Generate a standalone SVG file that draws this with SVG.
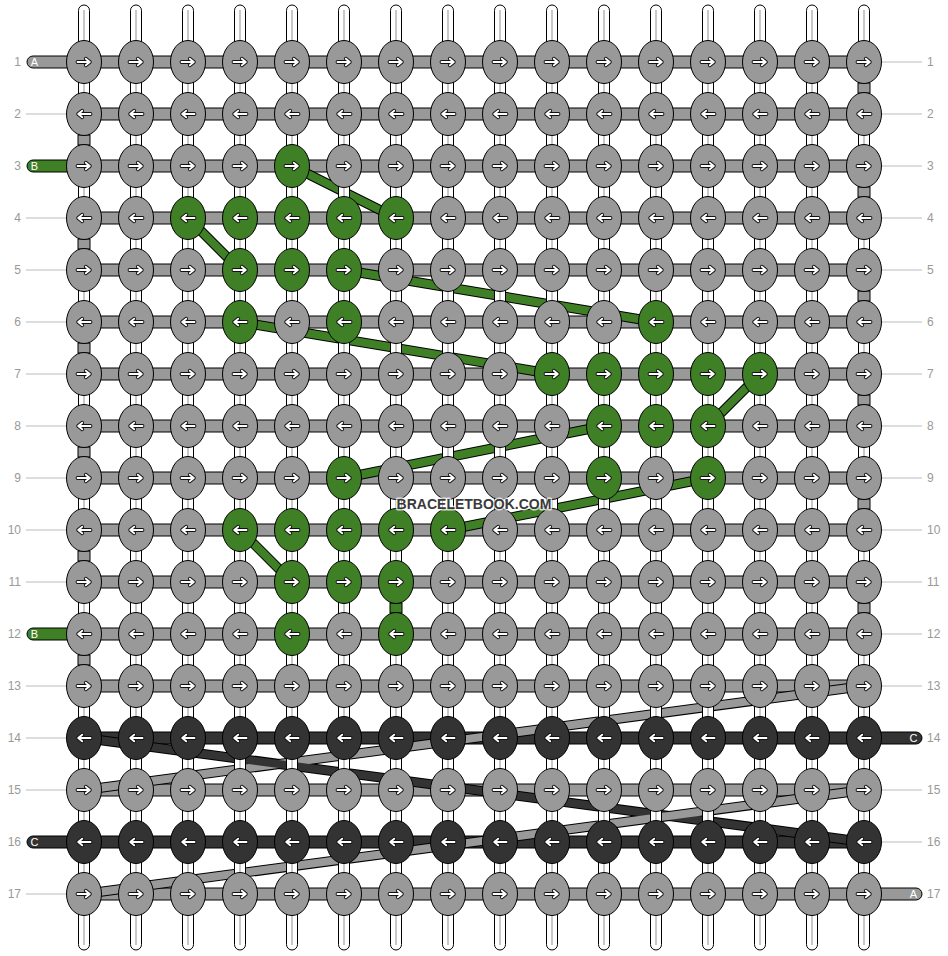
<svg xmlns="http://www.w3.org/2000/svg" xmlns:xlink="http://www.w3.org/1999/xlink" width="948" height="956" viewBox="0 0 948 956">
<style>
.nd{stroke:#000;stroke-width:1}
.g{fill:#999}
.e{fill:#3f7f25}
.d{fill:#333}
.ao{fill:none;stroke:#111;stroke-width:3.8;stroke-linecap:round;stroke-linejoin:round}
.ai{fill:none;stroke:#fff;stroke-width:1.9;stroke-linecap:round;stroke-linejoin:round}
.hs{stroke:#000;stroke-width:1}
.lbl{font-family:"Liberation Sans",Arial,sans-serif;font-size:12px;fill:#999}
.sl{font-family:"Liberation Sans",Arial,sans-serif;font-size:11px;fill:#fff;text-anchor:middle}
.ln{stroke:#bbb;stroke-width:1}
.dg0{stroke:#000;stroke-width:10;fill:none}
.dg1{stroke-width:8;fill:none}
</style>
<defs>
<path id="arp" d="M-6.5,0H5.8M1.8,-3.3L5.8,0L1.8,3.3"/>
<g id="ar"><use href="#arp" class="ao"/><use href="#arp" class="ai"/></g>
<g id="al"><use href="#ar" transform="scale(-1,1)"/></g>
<g id="gR"><ellipse rx="17.5" ry="21.5" class="nd g"/><use href="#ar"/></g>
<g id="gL"><ellipse rx="17.5" ry="21.5" class="nd g"/><use href="#al"/></g>
<g id="eR"><ellipse rx="17.5" ry="21.5" class="nd e"/><use href="#ar"/></g>
<g id="eL"><ellipse rx="17.5" ry="21.5" class="nd e"/><use href="#al"/></g>
<g id="dL"><ellipse rx="17.5" ry="21.5" class="nd d"/><use href="#al"/></g>
<g id="vs"><rect x="-5.5" y="5" width="11" height="945" rx="5.5" fill="#fff" stroke="#000" stroke-width="1"/><line x1="0" y1="10" x2="0" y2="945" stroke="#c8c8c8" stroke-width="2"/></g>
</defs>
<rect width="948" height="956" fill="#fff"/>

<g id="labels">
<g class="lbl" text-anchor="end">
<text x="21" y="66">1</text><text x="21" y="118">2</text><text x="21" y="170">3</text><text x="21" y="222">4</text><text x="21" y="274">5</text><text x="21" y="326">6</text><text x="21" y="378">7</text><text x="21" y="430">8</text><text x="21" y="482">9</text><text x="21" y="534">10</text><text x="21" y="586">11</text><text x="21" y="638">12</text><text x="21" y="690">13</text><text x="21" y="742">14</text><text x="21" y="794">15</text><text x="21" y="846">16</text><text x="21" y="898">17</text>
</g>
<g class="lbl">
<text x="927" y="66">1</text><text x="927" y="118">2</text><text x="927" y="170">3</text><text x="927" y="222">4</text><text x="927" y="274">5</text><text x="927" y="326">6</text><text x="927" y="378">7</text><text x="927" y="430">8</text><text x="927" y="482">9</text><text x="927" y="534">10</text><text x="927" y="586">11</text><text x="927" y="638">12</text><text x="927" y="690">13</text><text x="927" y="742">14</text><text x="927" y="794">15</text><text x="927" y="846">16</text><text x="927" y="898">17</text>
</g>
<g class="ln">
<line x1="26" y1="114" x2="66" y2="114"/><line x1="26" y1="218" x2="66" y2="218"/><line x1="26" y1="270" x2="66" y2="270"/><line x1="26" y1="322" x2="66" y2="322"/><line x1="26" y1="374" x2="66" y2="374"/><line x1="26" y1="426" x2="66" y2="426"/><line x1="26" y1="478" x2="66" y2="478"/><line x1="26" y1="530" x2="66" y2="530"/><line x1="26" y1="582" x2="66" y2="582"/><line x1="26" y1="686" x2="66" y2="686"/><line x1="26" y1="738" x2="66" y2="738"/><line x1="26" y1="790" x2="66" y2="790"/><line x1="26" y1="894" x2="66" y2="894"/>
<line x1="882" y1="62" x2="922" y2="62"/><line x1="882" y1="114" x2="922" y2="114"/><line x1="882" y1="166" x2="922" y2="166"/><line x1="882" y1="218" x2="922" y2="218"/><line x1="882" y1="270" x2="922" y2="270"/><line x1="882" y1="322" x2="922" y2="322"/><line x1="882" y1="374" x2="922" y2="374"/><line x1="882" y1="426" x2="922" y2="426"/><line x1="882" y1="478" x2="922" y2="478"/><line x1="882" y1="530" x2="922" y2="530"/><line x1="882" y1="582" x2="922" y2="582"/><line x1="882" y1="634" x2="922" y2="634"/><line x1="882" y1="686" x2="922" y2="686"/><line x1="882" y1="790" x2="922" y2="790"/><line x1="882" y1="842" x2="922" y2="842"/>
</g>
</g>

<g id="connectors">
<g id="rows" class="hs">
<rect x="27" y="56" width="60" height="12" rx="6" class="g"/>
<rect x="27" y="160" width="60" height="12" rx="6" class="e"/>
<rect x="27" y="628" width="60" height="12" rx="6" class="e"/>
<rect x="27" y="836" width="60" height="12" rx="6" class="d"/>
<rect x="860" y="732" width="62" height="12" rx="6" class="d"/>
<rect x="860" y="888" width="62" height="12" rx="6" class="g"/>
<rect x="84" y="56" width="780" height="12" class="g"/>
<rect x="84" y="108" width="780" height="12" class="g"/>
<rect x="84" y="160" width="780" height="12" class="g"/>
<rect x="84" y="212" width="780" height="12" class="g"/>
<rect x="84" y="264" width="780" height="12" class="g"/>
<rect x="84" y="316" width="780" height="12" class="g"/>
<rect x="84" y="368" width="780" height="12" class="g"/>
<rect x="84" y="420" width="780" height="12" class="g"/>
<rect x="84" y="472" width="780" height="12" class="g"/>
<rect x="84" y="524" width="780" height="12" class="g"/>
<rect x="84" y="576" width="780" height="12" class="g"/>
<rect x="84" y="628" width="780" height="12" class="g"/>
<rect x="84" y="680" width="780" height="12" class="g"/>
<rect x="84" y="732" width="780" height="12" class="d"/>
<rect x="84" y="784" width="780" height="12" class="g"/>
<rect x="84" y="836" width="780" height="12" class="d"/>
<rect x="84" y="888" width="780" height="12" class="g"/>
</g>
<g id="strandlabels">
<text x="34.5" y="66" class="sl">A</text>
<text x="34.5" y="170" class="sl">B</text>
<text x="34.5" y="638" class="sl">B</text>
<text x="34.5" y="846" class="sl">C</text>
<text x="913.5" y="742" class="sl">C</text>
<text x="913.5" y="898" class="sl">A</text>
</g>
<g id="diagonals">
<g class="dg0">
<line x1="292" y1="166" x2="396" y2="218"/>
<line x1="188" y1="218" x2="240" y2="270"/>
<line x1="344" y1="270" x2="656" y2="322"/>
<line x1="240" y1="322" x2="552" y2="374"/>
<line x1="760" y1="374" x2="708" y2="426"/>
<line x1="604" y1="426" x2="344" y2="478"/>
<line x1="708" y1="478" x2="448" y2="530"/>
<line x1="240" y1="530" x2="292" y2="582"/>
<line x1="864" y1="686" x2="84" y2="790"/>
<line x1="84" y1="738" x2="864" y2="842"/>
<line x1="864" y1="790" x2="84" y2="894"/>
</g>
<g class="dg1" stroke="#3f7f25">
<line x1="292" y1="166" x2="396" y2="218"/>
<line x1="188" y1="218" x2="240" y2="270"/>
<line x1="344" y1="270" x2="656" y2="322"/>
<line x1="240" y1="322" x2="552" y2="374"/>
<line x1="760" y1="374" x2="708" y2="426"/>
<line x1="604" y1="426" x2="344" y2="478"/>
<line x1="708" y1="478" x2="448" y2="530"/>
<line x1="240" y1="530" x2="292" y2="582"/>
</g>
<line class="dg1" stroke="#999" x1="864" y1="686" x2="84" y2="790"/>
<line class="dg1" stroke="#333" x1="84" y1="738" x2="864" y2="842"/>
<line class="dg1" stroke="#999" x1="864" y1="790" x2="84" y2="894"/>
</g>
<g id="verticals">
<use href="#vs" x="84"/><use href="#vs" x="136"/><use href="#vs" x="188"/><use href="#vs" x="240"/><use href="#vs" x="292"/><use href="#vs" x="344"/><use href="#vs" x="396"/><use href="#vs" x="448"/><use href="#vs" x="500"/><use href="#vs" x="552"/><use href="#vs" x="604"/><use href="#vs" x="656"/><use href="#vs" x="708"/><use href="#vs" x="760"/><use href="#vs" x="812"/><use href="#vs" x="864"/>
</g>
<g id="turns" class="hs">
<rect x="858" y="83" width="12" height="10" class="g"/>
<rect x="858" y="187" width="12" height="10" class="g"/>
<rect x="858" y="291" width="12" height="10" class="g"/>
<rect x="858" y="395" width="12" height="10" class="g"/>
<rect x="858" y="499" width="12" height="10" class="g"/>
<rect x="858" y="603" width="12" height="10" class="g"/>
<rect x="78" y="135" width="12" height="10" class="g"/>
<rect x="78" y="239" width="12" height="10" class="g"/>
<rect x="78" y="343" width="12" height="10" class="g"/>
<rect x="78" y="447" width="12" height="10" class="g"/>
<rect x="78" y="551" width="12" height="10" class="g"/>
<rect x="78" y="655" width="12" height="10" class="g"/>
<rect x="390" y="603" width="12" height="10" class="e"/>
</g>
</g>

<g id="nodes">
<g id="k1-1"><use href="#gR" x="84" y="62"/></g><g id="k1-2"><use href="#gR" x="136" y="62"/></g><g id="k1-3"><use href="#gR" x="188" y="62"/></g><g id="k1-4"><use href="#gR" x="240" y="62"/></g><g id="k1-5"><use href="#gR" x="292" y="62"/></g><g id="k1-6"><use href="#gR" x="344" y="62"/></g><g id="k1-7"><use href="#gR" x="396" y="62"/></g><g id="k1-8"><use href="#gR" x="448" y="62"/></g><g id="k1-9"><use href="#gR" x="500" y="62"/></g><g id="k1-10"><use href="#gR" x="552" y="62"/></g><g id="k1-11"><use href="#gR" x="604" y="62"/></g><g id="k1-12"><use href="#gR" x="656" y="62"/></g><g id="k1-13"><use href="#gR" x="708" y="62"/></g><g id="k1-14"><use href="#gR" x="760" y="62"/></g><g id="k1-15"><use href="#gR" x="812" y="62"/></g><g id="k1-16"><use href="#gR" x="864" y="62"/></g>
<g id="k2-1"><use href="#gL" x="84" y="114"/></g><g id="k2-2"><use href="#gL" x="136" y="114"/></g><g id="k2-3"><use href="#gL" x="188" y="114"/></g><g id="k2-4"><use href="#gL" x="240" y="114"/></g><g id="k2-5"><use href="#gL" x="292" y="114"/></g><g id="k2-6"><use href="#gL" x="344" y="114"/></g><g id="k2-7"><use href="#gL" x="396" y="114"/></g><g id="k2-8"><use href="#gL" x="448" y="114"/></g><g id="k2-9"><use href="#gL" x="500" y="114"/></g><g id="k2-10"><use href="#gL" x="552" y="114"/></g><g id="k2-11"><use href="#gL" x="604" y="114"/></g><g id="k2-12"><use href="#gL" x="656" y="114"/></g><g id="k2-13"><use href="#gL" x="708" y="114"/></g><g id="k2-14"><use href="#gL" x="760" y="114"/></g><g id="k2-15"><use href="#gL" x="812" y="114"/></g><g id="k2-16"><use href="#gL" x="864" y="114"/></g>
<g id="k3-1"><use href="#gR" x="84" y="166"/></g><g id="k3-2"><use href="#gR" x="136" y="166"/></g><g id="k3-3"><use href="#gR" x="188" y="166"/></g><g id="k3-4"><use href="#gR" x="240" y="166"/></g><g id="k3-5"><use href="#eR" x="292" y="166"/></g><g id="k3-6"><use href="#gR" x="344" y="166"/></g><g id="k3-7"><use href="#gR" x="396" y="166"/></g><g id="k3-8"><use href="#gR" x="448" y="166"/></g><g id="k3-9"><use href="#gR" x="500" y="166"/></g><g id="k3-10"><use href="#gR" x="552" y="166"/></g><g id="k3-11"><use href="#gR" x="604" y="166"/></g><g id="k3-12"><use href="#gR" x="656" y="166"/></g><g id="k3-13"><use href="#gR" x="708" y="166"/></g><g id="k3-14"><use href="#gR" x="760" y="166"/></g><g id="k3-15"><use href="#gR" x="812" y="166"/></g><g id="k3-16"><use href="#gR" x="864" y="166"/></g>
<g id="k4-1"><use href="#gL" x="84" y="218"/></g><g id="k4-2"><use href="#gL" x="136" y="218"/></g><g id="k4-3"><use href="#eL" x="188" y="218"/></g><g id="k4-4"><use href="#eL" x="240" y="218"/></g><g id="k4-5"><use href="#eL" x="292" y="218"/></g><g id="k4-6"><use href="#eL" x="344" y="218"/></g><g id="k4-7"><use href="#eL" x="396" y="218"/></g><g id="k4-8"><use href="#gL" x="448" y="218"/></g><g id="k4-9"><use href="#gL" x="500" y="218"/></g><g id="k4-10"><use href="#gL" x="552" y="218"/></g><g id="k4-11"><use href="#gL" x="604" y="218"/></g><g id="k4-12"><use href="#gL" x="656" y="218"/></g><g id="k4-13"><use href="#gL" x="708" y="218"/></g><g id="k4-14"><use href="#gL" x="760" y="218"/></g><g id="k4-15"><use href="#gL" x="812" y="218"/></g><g id="k4-16"><use href="#gL" x="864" y="218"/></g>
<g id="k5-1"><use href="#gR" x="84" y="270"/></g><g id="k5-2"><use href="#gR" x="136" y="270"/></g><g id="k5-3"><use href="#gR" x="188" y="270"/></g><g id="k5-4"><use href="#eR" x="240" y="270"/></g><g id="k5-5"><use href="#eR" x="292" y="270"/></g><g id="k5-6"><use href="#eR" x="344" y="270"/></g><g id="k5-7"><use href="#gR" x="396" y="270"/></g><g id="k5-8"><use href="#gR" x="448" y="270"/></g><g id="k5-9"><use href="#gR" x="500" y="270"/></g><g id="k5-10"><use href="#gR" x="552" y="270"/></g><g id="k5-11"><use href="#gR" x="604" y="270"/></g><g id="k5-12"><use href="#gR" x="656" y="270"/></g><g id="k5-13"><use href="#gR" x="708" y="270"/></g><g id="k5-14"><use href="#gR" x="760" y="270"/></g><g id="k5-15"><use href="#gR" x="812" y="270"/></g><g id="k5-16"><use href="#gR" x="864" y="270"/></g>
<g id="k6-1"><use href="#gL" x="84" y="322"/></g><g id="k6-2"><use href="#gL" x="136" y="322"/></g><g id="k6-3"><use href="#gL" x="188" y="322"/></g><g id="k6-4"><use href="#eL" x="240" y="322"/></g><g id="k6-5"><use href="#gL" x="292" y="322"/></g><g id="k6-6"><use href="#eL" x="344" y="322"/></g><g id="k6-7"><use href="#gL" x="396" y="322"/></g><g id="k6-8"><use href="#gL" x="448" y="322"/></g><g id="k6-9"><use href="#gL" x="500" y="322"/></g><g id="k6-10"><use href="#gL" x="552" y="322"/></g><g id="k6-11"><use href="#gL" x="604" y="322"/></g><g id="k6-12"><use href="#eL" x="656" y="322"/></g><g id="k6-13"><use href="#gL" x="708" y="322"/></g><g id="k6-14"><use href="#gL" x="760" y="322"/></g><g id="k6-15"><use href="#gL" x="812" y="322"/></g><g id="k6-16"><use href="#gL" x="864" y="322"/></g>
<g id="k7-1"><use href="#gR" x="84" y="374"/></g><g id="k7-2"><use href="#gR" x="136" y="374"/></g><g id="k7-3"><use href="#gR" x="188" y="374"/></g><g id="k7-4"><use href="#gR" x="240" y="374"/></g><g id="k7-5"><use href="#gR" x="292" y="374"/></g><g id="k7-6"><use href="#gR" x="344" y="374"/></g><g id="k7-7"><use href="#gR" x="396" y="374"/></g><g id="k7-8"><use href="#gR" x="448" y="374"/></g><g id="k7-9"><use href="#gR" x="500" y="374"/></g><g id="k7-10"><use href="#eR" x="552" y="374"/></g><g id="k7-11"><use href="#eR" x="604" y="374"/></g><g id="k7-12"><use href="#eR" x="656" y="374"/></g><g id="k7-13"><use href="#eR" x="708" y="374"/></g><g id="k7-14"><use href="#eR" x="760" y="374"/></g><g id="k7-15"><use href="#gR" x="812" y="374"/></g><g id="k7-16"><use href="#gR" x="864" y="374"/></g>
<g id="k8-1"><use href="#gL" x="84" y="426"/></g><g id="k8-2"><use href="#gL" x="136" y="426"/></g><g id="k8-3"><use href="#gL" x="188" y="426"/></g><g id="k8-4"><use href="#gL" x="240" y="426"/></g><g id="k8-5"><use href="#gL" x="292" y="426"/></g><g id="k8-6"><use href="#gL" x="344" y="426"/></g><g id="k8-7"><use href="#gL" x="396" y="426"/></g><g id="k8-8"><use href="#gL" x="448" y="426"/></g><g id="k8-9"><use href="#gL" x="500" y="426"/></g><g id="k8-10"><use href="#gL" x="552" y="426"/></g><g id="k8-11"><use href="#eL" x="604" y="426"/></g><g id="k8-12"><use href="#eL" x="656" y="426"/></g><g id="k8-13"><use href="#eL" x="708" y="426"/></g><g id="k8-14"><use href="#gL" x="760" y="426"/></g><g id="k8-15"><use href="#gL" x="812" y="426"/></g><g id="k8-16"><use href="#gL" x="864" y="426"/></g>
<g id="k9-1"><use href="#gR" x="84" y="478"/></g><g id="k9-2"><use href="#gR" x="136" y="478"/></g><g id="k9-3"><use href="#gR" x="188" y="478"/></g><g id="k9-4"><use href="#gR" x="240" y="478"/></g><g id="k9-5"><use href="#gR" x="292" y="478"/></g><g id="k9-6"><use href="#eR" x="344" y="478"/></g><g id="k9-7"><use href="#gR" x="396" y="478"/></g><g id="k9-8"><use href="#gR" x="448" y="478"/></g><g id="k9-9"><use href="#gR" x="500" y="478"/></g><g id="k9-10"><use href="#gR" x="552" y="478"/></g><g id="k9-11"><use href="#eR" x="604" y="478"/></g><g id="k9-12"><use href="#gR" x="656" y="478"/></g><g id="k9-13"><use href="#eR" x="708" y="478"/></g><g id="k9-14"><use href="#gR" x="760" y="478"/></g><g id="k9-15"><use href="#gR" x="812" y="478"/></g><g id="k9-16"><use href="#gR" x="864" y="478"/></g>
<g id="k10-1"><use href="#gL" x="84" y="530"/></g><g id="k10-2"><use href="#gL" x="136" y="530"/></g><g id="k10-3"><use href="#gL" x="188" y="530"/></g><g id="k10-4"><use href="#eL" x="240" y="530"/></g><g id="k10-5"><use href="#eL" x="292" y="530"/></g><g id="k10-6"><use href="#eL" x="344" y="530"/></g><g id="k10-7"><use href="#eL" x="396" y="530"/></g><g id="k10-8"><use href="#eL" x="448" y="530"/></g><g id="k10-9"><use href="#gL" x="500" y="530"/></g><g id="k10-10"><use href="#gL" x="552" y="530"/></g><g id="k10-11"><use href="#gL" x="604" y="530"/></g><g id="k10-12"><use href="#gL" x="656" y="530"/></g><g id="k10-13"><use href="#gL" x="708" y="530"/></g><g id="k10-14"><use href="#gL" x="760" y="530"/></g><g id="k10-15"><use href="#gL" x="812" y="530"/></g><g id="k10-16"><use href="#gL" x="864" y="530"/></g>
<g id="k11-1"><use href="#gR" x="84" y="582"/></g><g id="k11-2"><use href="#gR" x="136" y="582"/></g><g id="k11-3"><use href="#gR" x="188" y="582"/></g><g id="k11-4"><use href="#gR" x="240" y="582"/></g><g id="k11-5"><use href="#eR" x="292" y="582"/></g><g id="k11-6"><use href="#eR" x="344" y="582"/></g><g id="k11-7"><use href="#eR" x="396" y="582"/></g><g id="k11-8"><use href="#gR" x="448" y="582"/></g><g id="k11-9"><use href="#gR" x="500" y="582"/></g><g id="k11-10"><use href="#gR" x="552" y="582"/></g><g id="k11-11"><use href="#gR" x="604" y="582"/></g><g id="k11-12"><use href="#gR" x="656" y="582"/></g><g id="k11-13"><use href="#gR" x="708" y="582"/></g><g id="k11-14"><use href="#gR" x="760" y="582"/></g><g id="k11-15"><use href="#gR" x="812" y="582"/></g><g id="k11-16"><use href="#gR" x="864" y="582"/></g>
<g id="k12-1"><use href="#gL" x="84" y="634"/></g><g id="k12-2"><use href="#gL" x="136" y="634"/></g><g id="k12-3"><use href="#gL" x="188" y="634"/></g><g id="k12-4"><use href="#gL" x="240" y="634"/></g><g id="k12-5"><use href="#eL" x="292" y="634"/></g><g id="k12-6"><use href="#gL" x="344" y="634"/></g><g id="k12-7"><use href="#eL" x="396" y="634"/></g><g id="k12-8"><use href="#gL" x="448" y="634"/></g><g id="k12-9"><use href="#gL" x="500" y="634"/></g><g id="k12-10"><use href="#gL" x="552" y="634"/></g><g id="k12-11"><use href="#gL" x="604" y="634"/></g><g id="k12-12"><use href="#gL" x="656" y="634"/></g><g id="k12-13"><use href="#gL" x="708" y="634"/></g><g id="k12-14"><use href="#gL" x="760" y="634"/></g><g id="k12-15"><use href="#gL" x="812" y="634"/></g><g id="k12-16"><use href="#gL" x="864" y="634"/></g>
<g id="k13-1"><use href="#gR" x="84" y="686"/></g><g id="k13-2"><use href="#gR" x="136" y="686"/></g><g id="k13-3"><use href="#gR" x="188" y="686"/></g><g id="k13-4"><use href="#gR" x="240" y="686"/></g><g id="k13-5"><use href="#gR" x="292" y="686"/></g><g id="k13-6"><use href="#gR" x="344" y="686"/></g><g id="k13-7"><use href="#gR" x="396" y="686"/></g><g id="k13-8"><use href="#gR" x="448" y="686"/></g><g id="k13-9"><use href="#gR" x="500" y="686"/></g><g id="k13-10"><use href="#gR" x="552" y="686"/></g><g id="k13-11"><use href="#gR" x="604" y="686"/></g><g id="k13-12"><use href="#gR" x="656" y="686"/></g><g id="k13-13"><use href="#gR" x="708" y="686"/></g><g id="k13-14"><use href="#gR" x="760" y="686"/></g><g id="k13-15"><use href="#gR" x="812" y="686"/></g><g id="k13-16"><use href="#gR" x="864" y="686"/></g>
<g id="k14-1"><use href="#dL" x="84" y="738"/></g><g id="k14-2"><use href="#dL" x="136" y="738"/></g><g id="k14-3"><use href="#dL" x="188" y="738"/></g><g id="k14-4"><use href="#dL" x="240" y="738"/></g><g id="k14-5"><use href="#dL" x="292" y="738"/></g><g id="k14-6"><use href="#dL" x="344" y="738"/></g><g id="k14-7"><use href="#dL" x="396" y="738"/></g><g id="k14-8"><use href="#dL" x="448" y="738"/></g><g id="k14-9"><use href="#dL" x="500" y="738"/></g><g id="k14-10"><use href="#dL" x="552" y="738"/></g><g id="k14-11"><use href="#dL" x="604" y="738"/></g><g id="k14-12"><use href="#dL" x="656" y="738"/></g><g id="k14-13"><use href="#dL" x="708" y="738"/></g><g id="k14-14"><use href="#dL" x="760" y="738"/></g><g id="k14-15"><use href="#dL" x="812" y="738"/></g><g id="k14-16"><use href="#dL" x="864" y="738"/></g>
<g id="k15-1"><use href="#gR" x="84" y="790"/></g><g id="k15-2"><use href="#gR" x="136" y="790"/></g><g id="k15-3"><use href="#gR" x="188" y="790"/></g><g id="k15-4"><use href="#gR" x="240" y="790"/></g><g id="k15-5"><use href="#gR" x="292" y="790"/></g><g id="k15-6"><use href="#gR" x="344" y="790"/></g><g id="k15-7"><use href="#gR" x="396" y="790"/></g><g id="k15-8"><use href="#gR" x="448" y="790"/></g><g id="k15-9"><use href="#gR" x="500" y="790"/></g><g id="k15-10"><use href="#gR" x="552" y="790"/></g><g id="k15-11"><use href="#gR" x="604" y="790"/></g><g id="k15-12"><use href="#gR" x="656" y="790"/></g><g id="k15-13"><use href="#gR" x="708" y="790"/></g><g id="k15-14"><use href="#gR" x="760" y="790"/></g><g id="k15-15"><use href="#gR" x="812" y="790"/></g><g id="k15-16"><use href="#gR" x="864" y="790"/></g>
<g id="k16-1"><use href="#dL" x="84" y="842"/></g><g id="k16-2"><use href="#dL" x="136" y="842"/></g><g id="k16-3"><use href="#dL" x="188" y="842"/></g><g id="k16-4"><use href="#dL" x="240" y="842"/></g><g id="k16-5"><use href="#dL" x="292" y="842"/></g><g id="k16-6"><use href="#dL" x="344" y="842"/></g><g id="k16-7"><use href="#dL" x="396" y="842"/></g><g id="k16-8"><use href="#dL" x="448" y="842"/></g><g id="k16-9"><use href="#dL" x="500" y="842"/></g><g id="k16-10"><use href="#dL" x="552" y="842"/></g><g id="k16-11"><use href="#dL" x="604" y="842"/></g><g id="k16-12"><use href="#dL" x="656" y="842"/></g><g id="k16-13"><use href="#dL" x="708" y="842"/></g><g id="k16-14"><use href="#dL" x="760" y="842"/></g><g id="k16-15"><use href="#dL" x="812" y="842"/></g><g id="k16-16"><use href="#dL" x="864" y="842"/></g>
<g id="k17-1"><use href="#gR" x="84" y="894"/></g><g id="k17-2"><use href="#gR" x="136" y="894"/></g><g id="k17-3"><use href="#gR" x="188" y="894"/></g><g id="k17-4"><use href="#gR" x="240" y="894"/></g><g id="k17-5"><use href="#gR" x="292" y="894"/></g><g id="k17-6"><use href="#gR" x="344" y="894"/></g><g id="k17-7"><use href="#gR" x="396" y="894"/></g><g id="k17-8"><use href="#gR" x="448" y="894"/></g><g id="k17-9"><use href="#gR" x="500" y="894"/></g><g id="k17-10"><use href="#gR" x="552" y="894"/></g><g id="k17-11"><use href="#gR" x="604" y="894"/></g><g id="k17-12"><use href="#gR" x="656" y="894"/></g><g id="k17-13"><use href="#gR" x="708" y="894"/></g><g id="k17-14"><use href="#gR" x="760" y="894"/></g><g id="k17-15"><use href="#gR" x="812" y="894"/></g><g id="k17-16"><use href="#gR" x="864" y="894"/></g>
</g>

<text id="watermark" x="474" y="509" text-anchor="middle" font-family="Liberation Sans, Arial, sans-serif" font-size="14" font-weight="bold" fill="#3a3a3a" stroke="#fff" stroke-opacity="0.75" stroke-width="3" paint-order="stroke" stroke-linejoin="round">BRACELETBOOK.COM</text>
</svg>
